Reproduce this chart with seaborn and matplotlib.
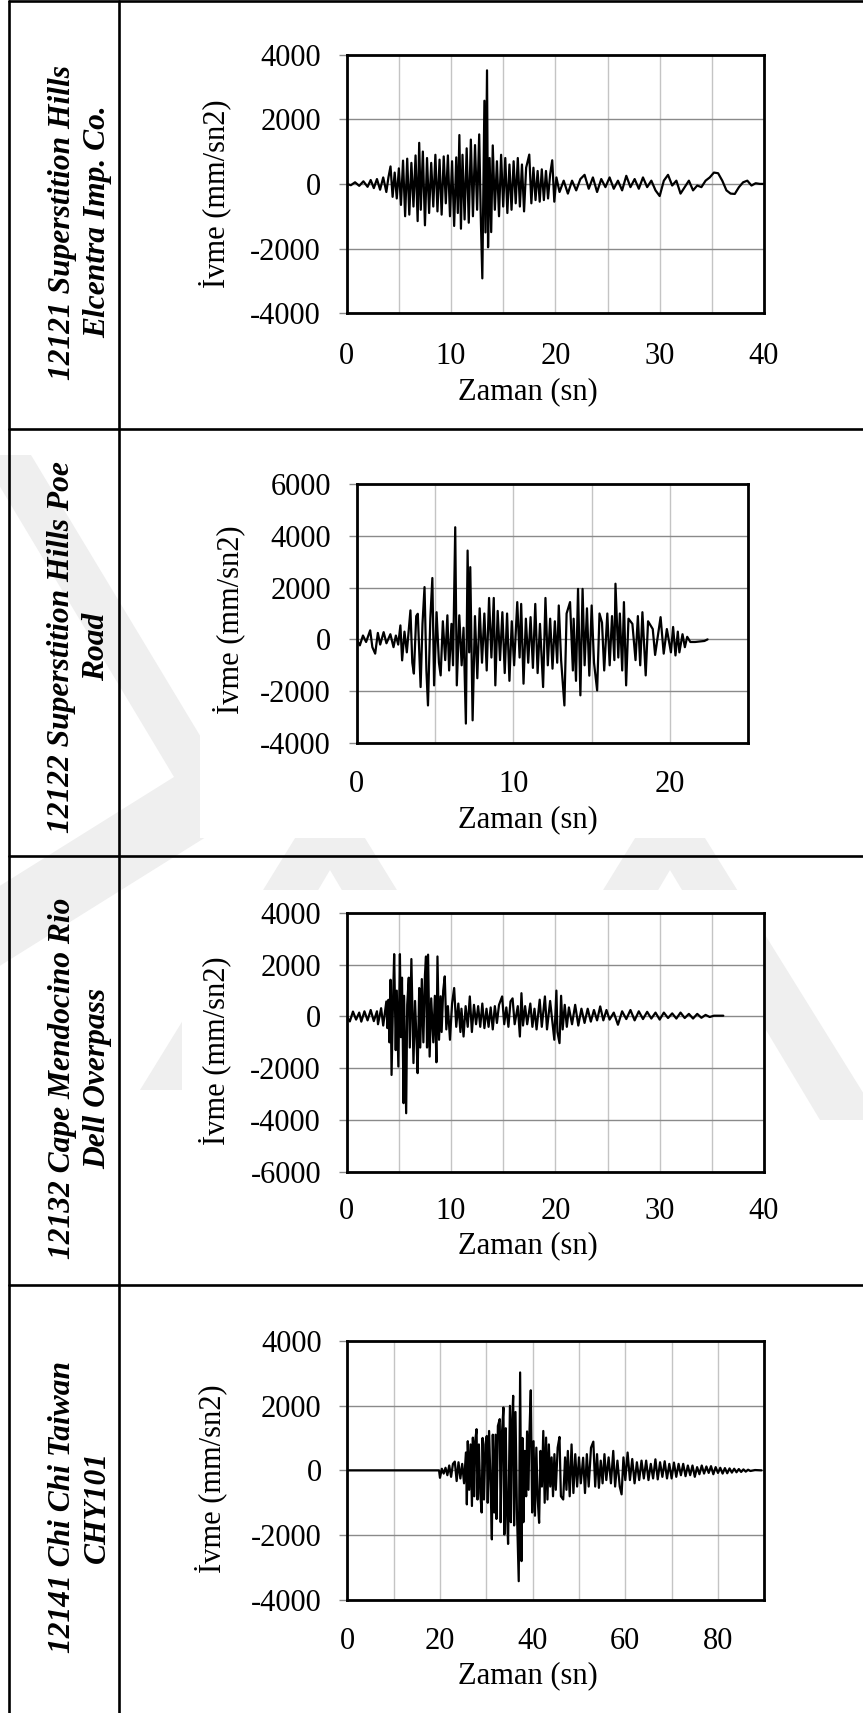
import matplotlib
matplotlib.use("Agg")
import matplotlib.pyplot as plt
from matplotlib.lines import Line2D
from matplotlib.patches import Polygon, Rectangle
import seaborn as sns
import numpy as np
import pandas as pd

# ---------------------------------------------------------------- records
station_names = [
    "12121 Superstition Hills\nElcentra Imp. Co.",
    "12122 Superstition Hills Poe\nRoad",
    "12132 Cape Mendocino Rio\nDell Overpass",
    "12141 Chi Chi Taiwan\nCHY101",
]
x_label = "Zaman (sn)"
y_label = "İvme (mm/sn2)"

# 12121 Superstition Hills - Elcentra Imp. Co. (time s, acceleration mm/s2)
t1 = [0.0, 0.4, 0.8, 1.2, 1.6, 2.0, 2.3, 2.6, 2.9, 3.2,
      3.5, 3.8, 4.0, 4.2, 4.4, 4.6, 4.8, 5.0, 5.2, 5.4,
      5.6, 5.8, 6.0, 6.2, 6.4, 6.6, 6.8, 6.95, 7.1, 7.3,
      7.5, 7.7, 7.9, 8.1, 8.3, 8.5, 8.7, 8.9, 9.1, 9.3,
      9.5, 9.7, 9.9, 10.1, 10.3, 10.5, 10.65, 10.8, 10.95, 11.1,
      11.3, 11.5, 11.7, 11.9, 12.1, 12.3, 12.5, 12.7, 12.85, 13.0,
      13.2, 13.3, 13.45, 13.55, 13.7, 13.85, 14.0, 14.2, 14.4, 14.6,
      14.8, 15.0, 15.2, 15.4, 15.6, 15.8, 16.0, 16.2, 16.4, 16.6,
      16.8, 17.0, 17.2, 17.5, 17.7, 17.9, 18.1, 18.3, 18.5, 18.7,
      18.9, 19.1, 19.3, 19.5, 19.7, 19.9, 20.1, 20.4, 20.8, 21.2,
      21.6, 22.0, 22.4, 22.8, 23.2, 23.6, 24.0, 24.4, 24.8, 25.2,
      25.6, 26.0, 26.4, 26.8, 27.2, 27.6, 28.0, 28.4, 28.8, 29.2,
      29.6, 30.0, 30.4, 30.8, 31.2, 31.6, 32.0, 32.4, 32.8, 33.2,
      33.6, 34.0, 34.4, 34.8, 35.2, 35.6, 36.0, 36.4, 36.8, 37.2,
      37.6, 38.0, 38.4, 38.8, 39.2, 39.6, 40.0]
a1 = [0, -40, 50, -60, 80, -90, 120, -130, 150, -180,
      200, -250, 200, 540, -400, 350, -450, 480, -650, 720,
      -1000, 780, -950, 650, -700, 880, -1150, 1270, -800, 1000,
      -1280, 800, -900, 650, -700, 900, -850, 750, -950, 850,
      -600, 880, -1000, 700, -1300, 820, -900, 1510, -1385, 900,
      -1100, 1100, -1200, 1370, -1000, 1200, -800, 1530, -1000, -2920,
      2570, -1500, 3510, -1960, 800, -1490, 1190, -800, 700, -1000,
      900, -700, 800, -900, 600, -800, 700, -600, 800, -700,
      600, -850, 500, 906, -600, 500, -500, 400, -550, 450,
      -500, 400, -450, 300, 730, -550, 200, -250, 100, -300,
      100, -200, 150, 280, -150, 200, -250, 150, -100, 200,
      -150, 100, -200, 250, -100, 150, -150, 200, -100, 100,
      -200, -375, 100, 280, -50, 100, -300, -100, 100, -200,
      -50, -100, 100, 200, 350, 330, 100, -200, -300, -310,
      -100, 50, 100, -50, 20, 0, 0]

# 12122 Superstition Hills - Poe Road
t2 = [0.0, 0.2, 0.4, 0.6, 0.86, 1.0, 1.18, 1.35, 1.5, 1.72,
      1.9, 2.15, 2.35, 2.5, 2.65, 2.79, 2.9, 3.05, 3.2, 3.43,
      3.55, 3.65, 3.8, 3.9, 4.08, 4.2, 4.33, 4.45, 4.55, 4.7,
      4.83, 4.94, 5.1, 5.25, 5.36, 5.5, 5.65, 5.79, 5.9, 6.05,
      6.15, 6.29, 6.39, 6.55, 6.7, 6.82, 6.97, 7.08, 7.18, 7.25,
      7.4, 7.55, 7.7, 7.85, 8.0, 8.15, 8.3, 8.45, 8.6, 8.75,
      8.85, 9.0, 9.15, 9.3, 9.45, 9.6, 9.75, 9.9, 10.05, 10.25,
      10.4, 10.5, 10.65, 10.8, 10.95, 11.1, 11.25, 11.4, 11.55, 11.7,
      11.9, 12.05, 12.2, 12.35, 12.5, 12.65, 12.8, 12.9, 13.05, 13.26,
      13.4, 13.62, 13.8, 13.85, 14.0, 14.13, 14.28, 14.42, 14.55, 14.7,
      14.85, 15.0, 15.15, 15.35, 15.5, 15.66, 15.8, 16.0, 16.15, 16.3,
      16.45, 16.52, 16.7, 16.8, 16.95, 17.06, 17.2, 17.35, 17.6, 17.8,
      17.95, 18.1, 18.24, 18.45, 18.6, 18.9, 19.05, 19.4, 19.6, 19.8,
      20.06, 20.2, 20.35, 20.5, 20.6, 20.8, 20.95, 21.1, 21.3, 21.6,
      21.9, 22.2, 22.4]
a2 = [0, -230, 150, -100, 350, -300, -550, 250, -200, 280,
      -150, 200, -300, 150, -200, 540, -810, 300, -500, 1120,
      -900, -1320, 900, 990, -1840, 600, 2020, -1200, -2550, 800,
      2370, -1775, 1050, -900, -1390, 700, -800, 930, -1200, 600,
      -1000, 4330, -1775, 930, -1000, 450, -3250, 3430, -500, 2790,
      -3125, 900, -1500, 1200, -900, 1000, -1200, 1600, -700, 1600,
      -1775, 1100, -800, 1050, -1300, 1000, -1600, 700, -1000, 1440,
      -700, 1370, -1710, 800, -900, 860, -1100, 1370, -1300, 600,
      -1840, 1600, -1000, 800, -1130, 700, -900, 1310, -800, -2550,
      1000, 1440, -1200, 800, -1600, 1950, -2160, 1950, -1000, 1200,
      -1400, 1310, -900, -1970, 1000, 650, -1200, 1000, -1000, 900,
      -800, 2150, -700, 1000, -1200, 1440, -1775, 800, 600, -800,
      900, -1000, 1050, -1390, 700, 400, -600, 860, -550, 400,
      -500, 480, -620, 300, -500, 200, -300, 100, -100, -100,
      -80, -60, 0]

# 12132 Cape Mendocino - Rio Dell Overpass
t3 = [0.0, 0.3, 0.6, 0.9, 1.2, 1.4, 1.7, 2.0, 2.3, 2.6,
      2.9, 3.0, 3.3, 3.5, 3.8, 3.9, 4.0, 4.1, 4.2, 4.3,
      4.45, 4.55, 4.7, 4.8, 4.95, 5.1, 5.2, 5.3, 5.45, 5.5,
      5.7, 5.8, 5.95, 6.05, 6.2, 6.4, 6.55, 6.7, 6.8, 6.95,
      7.05, 7.2, 7.35, 7.5, 7.6, 7.7, 7.8, 7.95, 8.1, 8.3,
      8.45, 8.6, 8.7, 8.85, 9.0, 9.1, 9.25, 9.4, 9.55, 9.7,
      9.9, 10.1, 10.3, 10.5, 10.7, 10.9, 11.0, 11.2, 11.4, 11.6,
      11.8, 12.0, 12.2, 12.4, 12.6, 12.8, 13.0, 13.2, 13.4, 13.6,
      13.8, 14.0, 14.2, 14.4, 14.6, 14.9, 15.1, 15.3, 15.5, 15.7,
      15.9, 16.1, 16.4, 16.6, 16.75, 16.9, 17.1, 17.3, 17.6, 17.8,
      18.0, 18.2, 18.5, 18.7, 19.0, 19.2, 19.5, 19.9, 20.1, 20.2,
      20.4, 20.55, 20.7, 20.9, 21.1, 21.3, 21.6, 21.9, 22.2, 22.5,
      22.8, 23.1, 23.4, 23.7, 24.0, 24.3, 24.6, 24.9, 25.2, 25.6,
      26.0, 26.4, 26.8, 27.2, 27.6, 28.0, 28.4, 28.8, 29.2, 29.6,
      30.0, 30.4, 30.8, 31.2, 31.6, 32.0, 32.4, 32.8, 33.2, 33.6,
      34.0, 34.4, 34.8, 35.2, 35.6, 36.1]
a3 = [0, -190, 190, -120, 150, -200, 200, -150, 250, -180,
      200, -300, 320, -350, 580, -450, 645, -1000, 1420, -2260,
      800, 2410, -1300, 1000, -1935, 2410, -800, 1500, -3350, 800,
      -3740, 450, 1500, -1200, 2220, -1800, 600, -1000, -2190, 1100,
      -1200, 1445, -1000, 1600, 2320, -1200, 2390, -1550, 700, -1000,
      800, -1770, 2320, -900, 780, -600, 1000, 1550, -500, 400,
      -900, 500, 1100, -400, 500, -600, 300, -775, 400, -400,
      775, -600, 450, -300, 400, -400, 500, -450, 300, -400,
      350, -500, 400, -250, 450, 775, -300, 350, -400, 580,
      700, -300, 400, -775, 900, -350, 400, -300, 500, -400,
      300, -500, 650, -400, 775, -500, 600, -900, 1000, -600,
      -1030, 800, -500, 450, -400, 350, -300, 450, -350, 300,
      -250, 300, -200, 250, -150, 390, -150, 250, -120, 150,
      -320, 200, -100, 250, -150, 200, -100, 180, -80, 150,
      -120, 150, -60, 120, -80, 150, -60, 100, -80, 100,
      -50, 60, -20, 30, 30, 30]

# 12141 Chi Chi Taiwan - CHY101
t4 = [0.0, 19.8, 20.0, 20.4, 20.8, 21.2, 21.6, 22.0, 22.4, 22.8,
      23.2, 23.6, 24.0, 24.4, 24.8, 25.2, 25.6, 25.8, 26.0, 26.3,
      26.6, 26.9, 27.1, 27.4, 27.6, 27.9, 28.1, 28.4, 28.7, 29.0,
      29.2, 29.5, 29.8, 30.1, 30.3, 30.6, 31.0, 31.2, 31.4, 31.7,
      32.0, 32.2, 32.5, 32.9, 33.1, 33.4, 33.7, 33.9, 34.2, 34.4,
      34.7, 35.1, 35.3, 35.5, 35.8, 36.0, 36.3, 36.6, 37.0, 37.3,
      37.6, 37.8, 38.0, 38.3, 38.6, 38.8, 39.1, 39.3, 39.6, 39.9,
      40.2, 40.5, 40.8, 41.1, 41.4, 41.7, 42.0, 42.3, 42.6, 42.9,
      43.2, 43.5, 43.8, 44.1, 44.4, 44.7, 45.0, 45.4, 45.8, 46.1,
      46.6, 47.0, 47.3, 47.6, 48.0, 48.4, 48.8, 49.2, 49.6, 50.0,
      50.4, 50.9, 51.3, 51.7, 52.1, 52.6, 53.1, 53.5, 53.9, 54.3,
      54.7, 55.1, 55.5, 55.9, 56.4, 56.9, 57.4, 57.8, 58.3, 58.8,
      59.2, 59.6, 60.0, 60.5, 61.0, 61.5, 62.0, 62.5, 63.0, 63.5,
      64.0, 64.5, 65.0, 65.5, 66.0, 66.5, 67.0, 67.5, 68.0, 68.5,
      69.0, 69.5, 70.0, 70.5, 71.0, 71.5, 72.0, 72.5, 73.0, 73.5,
      74.0, 74.5, 75.0, 75.5, 76.0, 76.5, 77.0, 77.5, 78.0, 78.5,
      79.0, 79.5, 80.0, 80.5, 81.0, 81.5, 82.0, 82.5, 83.0, 83.5,
      84.0, 84.5, 85.0, 85.5, 86.0, 86.5, 87.0, 88.0, 89.4]
a4 = [0, 0, -230, 50, -100, 80, -150, 150, -200, 200,
      270, -330, 250, -250, 200, -400, 550, -1050, 900, -600,
      800, -1100, 1010, -800, 900, 1270, -900, 800, -700, -1300,
      1000, -900, 800, 1060, -1000, 1215, -900, -2130, 1100, -1300,
      1100, -1500, 1370, 1580, -1600, 1200, 1940, -1980, 1300, -1000,
      -2270, 1990, -1600, 1200, 2300, -1700, 1800, -1200, -3420, 3020,
      -2800, 1000, -1600, 600, -800, 1200, -600, 1100, 2470, -1300,
      900, -1400, 700, -900, -1620, 600, -500, 1215, -1000, 1010,
      -900, 800, -500, 400, -800, 500, -600, 700, 1030, -800,
      -900, 400, -600, 600, -800, 800, -700, 500, -500, 400,
      -400, 390, -700, 500, -500, 700, 885, -500, 500, -540,
      300, -400, 500, -300, 400, -400, 600, -500, 300, -500,
      -740, 400, -300, 550, -300, 350, -400, 250, -300, 300,
      -250, 300, -300, 200, -250, 340, -280, 250, -200, 280,
      -250, 200, -250, 240, -200, 200, -150, 200, -180, 150,
      -150, 150, -200, 100, -120, 150, -100, 120, -80, 130,
      -120, 100, -80, 80, -100, 70, -90, 60, -70, 50,
      -60, 40, -50, 30, -40, 20, -20, 10, 0]

series = [(t1, a1), (t2, a2), (t3, a3), (t4, a4)]
x_ranges = [(0, 40), (0, 25), (0, 40), (0, 90)]
x_label_steps = [10, 10, 10, 20]
x_grid_steps = [5, 5, 5, 10]
y_ranges = [(-4000, 4000), (-4000, 6000), (-6000, 4000), (-4000, 4000)]

# ---------------------------------------------------------------- layout (pixels)
W, H, DPI = 863, 1713, 100
row_edges = [0.8, 428.5, 856.0, 1285.0, 1713.0]
frame_x = [8.7, 118.7]
axes_boxes = [(346.7, 54.5, 764.0, 313.3),
              (356.7, 484.0, 748.3, 743.0),
              (346.7, 913.0, 764.0, 1171.7),
              (347.3, 1340.7, 764.3, 1600.0)]
ylabel_anchor = [(231, 194), (245, 620), (231, 1051), (227, 1479)]
xlabel_anchor = [(528, 377), (528, 805), (528, 1231.5), (528, 1661.5)]
xtick_pad = [20.7, 19.4, 17.9, 19.1]
name_anchor = [(80, 222), (79, 647), (80, 1078), (80, 1507)]

# faint page emblem behind the table, and the white chart areas over it
emblem_shapes = [
    [(31, 455), (246, 812), (-10, 972), (-10, 892), (174, 777), (-19, 455)],
    [(300, 830), (360, 830), (520, 1090), (460, 1090), (330, 870), (200, 1090), (140, 1090)],
    [(640, 830), (700, 830), (880, 1120), (820, 1120), (670, 870), (540, 1090), (480, 1090)],
]
chart_areas = [(200, 440, 863, 838), (182, 890, 762, 1280)]

sns.set_style("white")
plt.rcParams["font.family"] = ["Liberation Serif", "DejaVu Serif"]
plt.rcParams["axes.unicode_minus"] = False

fig = plt.figure(figsize=(W / DPI, H / DPI), dpi=DPI)
fig.patch.set_facecolor("white")


def fx(x):
    return x / W


def fy(y):
    return 1 - y / H


for pts in emblem_shapes:
    fig.add_artist(Polygon([(fx(x), fy(y)) for x, y in pts], closed=True,
                           transform=fig.transFigure, facecolor="#efefef",
                           edgecolor="none", zorder=-3))
for l, tp, r, b in chart_areas:
    fig.add_artist(Rectangle((fx(l), fy(b)), (r - l) / W, (b - tp) / H,
                             transform=fig.transFigure, facecolor="white",
                             edgecolor="none", zorder=-2))

# table frame
LW_FRAME = 1.9
for y in row_edges[:-1]:
    fig.add_artist(Line2D([fx(frame_x[0]), 1.0], [fy(y), fy(y)],
                          transform=fig.transFigure, color="black",
                          lw=LW_FRAME, zorder=-1))
for x in frame_x:
    fig.add_artist(Line2D([fx(x), fx(x)], [fy(row_edges[0]), 0.0],
                          transform=fig.transFigure, color="black",
                          lw=LW_FRAME, zorder=-1))

FS = 22
for i, (t, a) in enumerate(series):
    l, tp, r, b = axes_boxes[i]
    ax = fig.add_axes([fx(l), fy(b), (r - l) / W, (b - tp) / H])
    df = pd.DataFrame({x_label: t, y_label: a})
    sns.lineplot(data=df, x=x_label, y=y_label, ax=ax, color="black",
                 lw=1.6, estimator=None, sort=False, zorder=3)

    x0, x1 = x_ranges[i]
    y0, y1 = y_ranges[i]
    ax.set_xlim(x0, x1)
    ax.set_ylim(y0, y1)
    ax.set_xticks(np.arange(x0, x1 + 0.01, x_label_steps[i]))
    ax.set_xticks(np.arange(x0, x1 + 0.01, x_grid_steps[i]), minor=True)
    ax.set_yticks(np.arange(y0, y1 + 1, 2000))
    ax.set_axisbelow(True)
    ax.grid(axis="x", which="both", color="#c4c4c4", lw=1.0)
    ax.grid(axis="y", which="major", color="#8a8a8a", lw=1.0)
    ax.tick_params(axis="x", which="both", length=0, pad=xtick_pad[i],
                   labelsize=FS, labelcolor="black")
    ax.tick_params(axis="y", which="major", length=5.5, width=1.0,
                   color="#8a8a8a", direction="out", pad=13,
                   labelsize=FS, labelcolor="black", left=True)
    for s in ax.spines.values():
        s.set_linewidth(2.0)
        s.set_color("black")
        s.set_zorder(5)

    ax.set_xlabel(x_label, fontsize=FS, color="black")
    ax.xaxis.set_label_coords(fx(xlabel_anchor[i][0]), fy(xlabel_anchor[i][1]),
                              transform=fig.transFigure)
    ax.set_ylabel(y_label, fontsize=FS, color="black")
    ax.yaxis.set_label_coords(fx(ylabel_anchor[i][0]), fy(ylabel_anchor[i][1]),
                              transform=fig.transFigure)

    fig.text(fx(name_anchor[i][0]), fy(name_anchor[i][1]), station_names[i],
             rotation=90, ha="center", va="center", multialignment="center",
             fontsize=22.7, fontweight="bold", fontstyle="italic",
             linespacing=1.25, color="black", zorder=4)

fig.savefig("out.png", dpi=DPI, facecolor="white")
